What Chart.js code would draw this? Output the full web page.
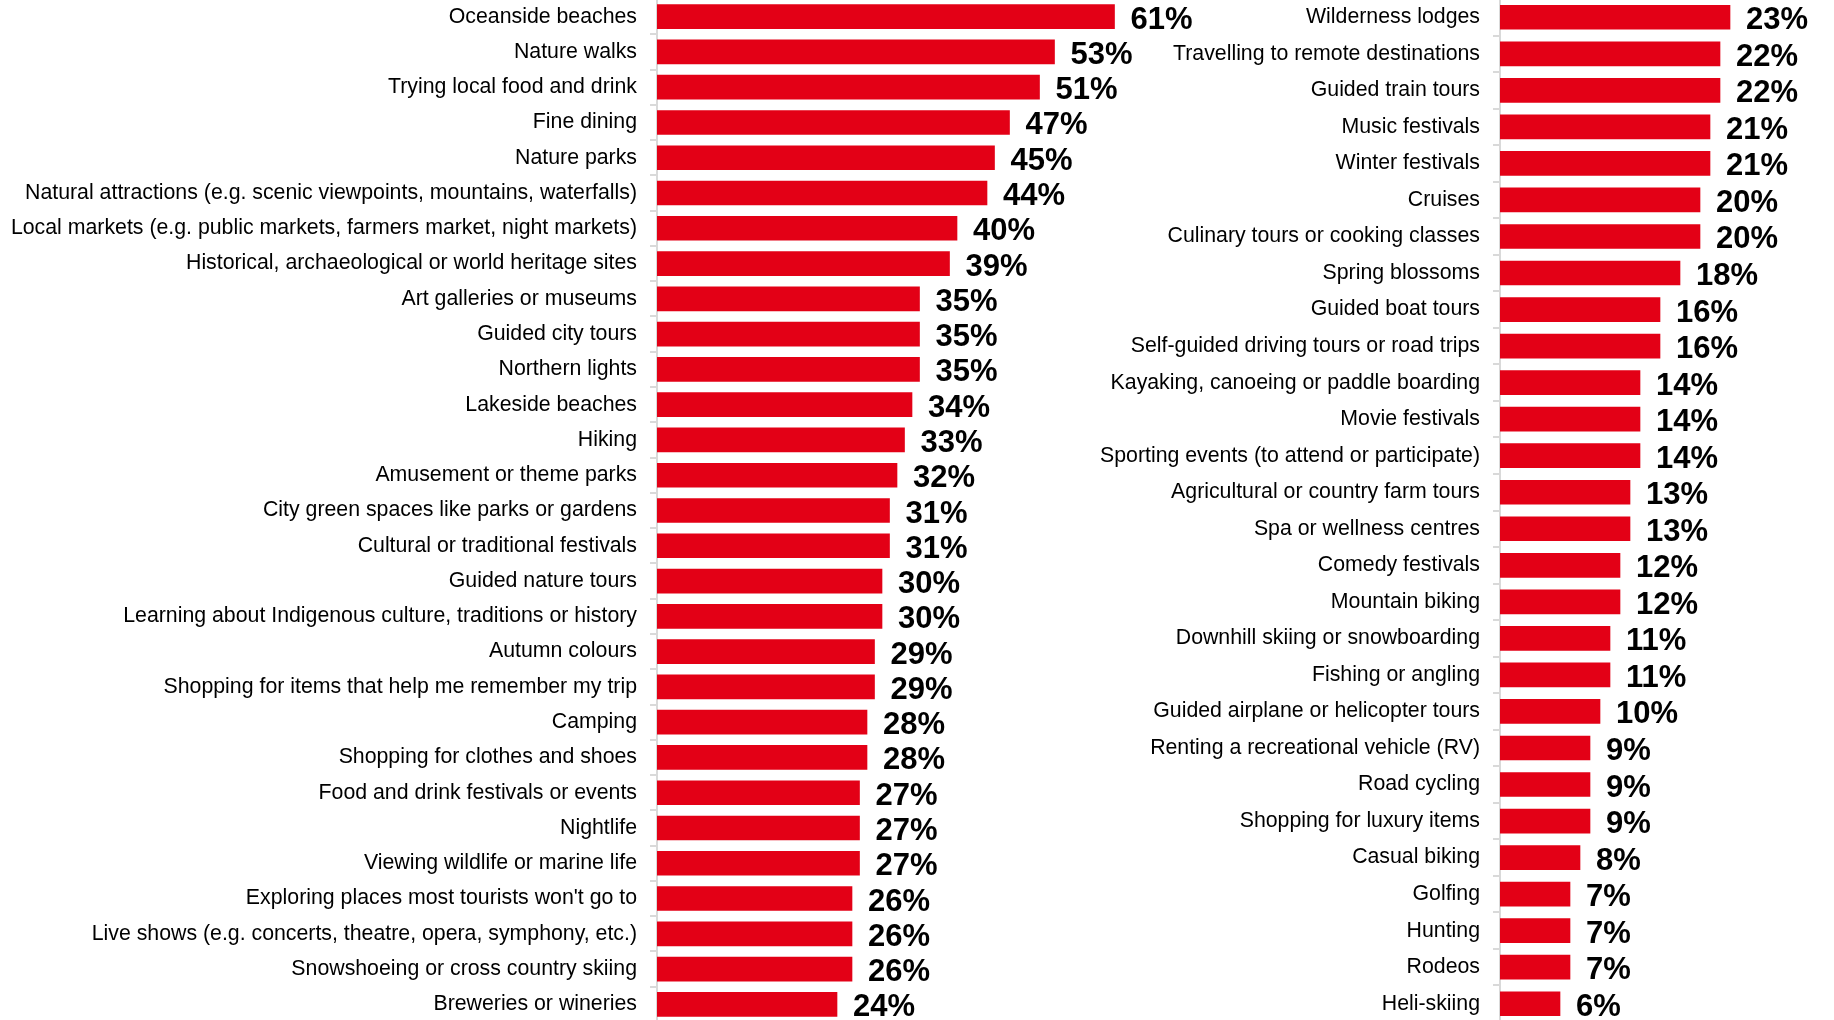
<!DOCTYPE html>
<html>
<head>
<meta charset="utf-8">
<script src="https://cdn.jsdelivr.net/npm/chart.js@4"></script>
<style>
    html, body { margin: 0; padding: 0; background: #fff; overflow: hidden; }
    body { width: 1834px; height: 1020px; position: relative; }
    .panel { position: absolute; }
    #leftPanel { left: 0; top: -1px; width: 1257px; height: 1023px; }
    #rightPanel { left: 1000px; top: -1px; width: 834px; height: 1023px; }
</style>
</head>
<body>
<div class="panel" id="leftPanel"><canvas id="leftChart"></canvas></div>
<div class="panel" id="rightPanel"><canvas id="rightChart"></canvas></div>
<script>
const leftLabels = [
    "Oceanside beaches",
    "Nature walks",
    "Trying local food and drink",
    "Fine dining",
    "Nature parks",
    "Natural attractions (e.g. scenic viewpoints, mountains, waterfalls)",
    "Local markets (e.g. public markets, farmers market, night markets)",
    "Historical, archaeological or world heritage sites",
    "Art galleries or museums",
    "Guided city tours",
    "Northern lights",
    "Lakeside beaches",
    "Hiking",
    "Amusement or theme parks",
    "City green spaces like parks or gardens",
    "Cultural or traditional festivals",
    "Guided nature tours",
    "Learning about Indigenous culture, traditions or history",
    "Autumn colours",
    "Shopping for items that help me remember my trip",
    "Camping",
    "Shopping for clothes and shoes",
    "Food and drink festivals or events",
    "Nightlife",
    "Viewing wildlife or marine life",
    "Exploring places most tourists won't go to",
    "Live shows (e.g. concerts, theatre, opera, symphony, etc.)",
    "Snowshoeing or cross country skiing",
    "Breweries or wineries"
];
const leftValues = [61, 53, 51, 47, 45, 44, 40, 39, 35, 35, 35, 34, 33, 32, 31, 31, 30, 30, 29, 29, 28, 28, 27, 27, 27, 26, 26, 26, 24];

const rightLabels = [
    "Wilderness lodges",
    "Travelling to remote destinations",
    "Guided train tours",
    "Music festivals",
    "Winter festivals",
    "Cruises",
    "Culinary tours or cooking classes",
    "Spring blossoms",
    "Guided boat tours",
    "Self-guided driving tours or road trips",
    "Kayaking, canoeing or paddle boarding",
    "Movie festivals",
    "Sporting events (to attend or participate)",
    "Agricultural or country farm tours",
    "Spa or wellness centres",
    "Comedy festivals",
    "Mountain biking",
    "Downhill skiing or snowboarding",
    "Fishing or angling",
    "Guided airplane or helicopter tours",
    "Renting a recreational vehicle (RV)",
    "Road cycling",
    "Shopping for luxury items",
    "Casual biking",
    "Golfing",
    "Hunting",
    "Rodeos",
    "Heli-skiing"
];
const rightValues = [23, 22, 22, 21, 21, 20, 20, 18, 16, 16, 14, 14, 14, 13, 13, 12, 12, 11, 11, 10, 9, 9, 9, 8, 7, 7, 7, 6];

const FONT = "Arial, 'Liberation Sans', sans-serif";
const BAR_RED = "#e30016";
const AXIS_GREY = "#d9d9d9";

// percent labels at the end of each bar
const valueLabels = {
    id: "valueLabels",
    afterDatasetsDraw(chart) {
        const ctx = chart.ctx;
        const meta = chart.getDatasetMeta(0);
        ctx.save();
        ctx.font = "bold 31px " + FONT;
        ctx.fillStyle = "#000";
        ctx.textAlign = "left";
        ctx.textBaseline = "alphabetic";
        meta.data.forEach((bar, i) => {
            const v = chart.data.datasets[0].data[i];
            ctx.fillText(v + "%", bar.x + 16, bar.y + 12);
        });
        ctx.restore();
    }
};

const makeChart = (id, labels, values, axisWidth, xMax) => {
    new Chart(document.getElementById(id), {
        type: "bar",
        data: {
            labels,
            datasets: [{
                data: values,
                backgroundColor: BAR_RED,
                barThickness: 24
            }]
        },
        options: {
            indexAxis: "y",
            responsive: true,
            maintainAspectRatio: false,
            animation: false,
            layout: { padding: 0 },
            plugins: {
                legend: { display: false },
                tooltip: { enabled: false }
            },
            scales: {
                x: {
                    display: false,
                    min: 0,
                    max: xMax
                },
                y: {
                    border: { display: true, color: AXIS_GREY, width: 2 },
                    grid: {
                        drawOnChartArea: false,
                        color: AXIS_GREY,
                        lineWidth: 2,
                        tickLength: 7
                    },
                    ticks: {
                        padding: 13,
                        color: "#000",
                        autoSkip: false,
                        font: { family: FONT, size: 21.3 }
                    },
                    afterFit: (scale) => {
                        scale.width = axisWidth;
                        // categories run edge to edge, no room kept for labels
                        scale.paddingTop = 0;
                        scale.paddingBottom = 0;
                    }
                }
            }
        },
        plugins: [valueLabels]
    });
};

makeChart("leftChart", leftLabels, leftValues, 657, 80);
makeChart("rightChart", rightLabels, rightValues, 500, 33.4);
</script>
</body>
</html>
